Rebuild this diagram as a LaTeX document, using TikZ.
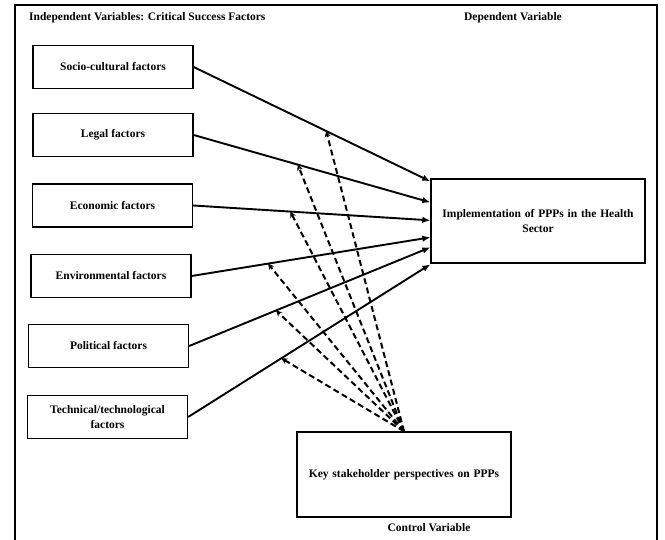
\documentclass[tikz,border=0pt]{standalone}
\usepackage{fontspec}
\setmainfont{Liberation Serif}
\usetikzlibrary{arrows.meta,calc}
\tikzset{
  factor/.style={draw, line width=1.3pt, minimum width=160pt, minimum height=43pt, inner sep=2pt, align=center, font=\fontsize{11.5}{14.5}\selectfont\bfseries},
  bigbox/.style={draw, line width=1.3pt, minimum width=214pt, minimum height=84pt, inner sep=2pt, align=center, text width=205pt, font=\fontsize{11.5}{15}\selectfont\bfseries},
  lbl/.style={inner sep=0pt, font=\fontsize{11.5}{14}\selectfont\bfseries},
  link/.style={line width=1.9pt, -{Latex[length=8pt,width=6.5pt]}},
  moder/.style={line width=2pt, dash pattern=on 6pt off 3.5pt, -{Stealth[length=6pt,width=6pt]}}
}
\begin{document}
\begin{tikzpicture}[x=1pt,y=-1pt]
\useasboundingbox (0,0) rectangle (665,540);
% frame
\draw[line width=1.3pt] (15,545) -- (15,5) -- (657,5) -- (657,545);
% headings
\node[lbl, anchor=west] (hind) at (29,18) {Independent Variables: Critical Success Factors};
\node[lbl] (hdep) at (513,18) {Dependent Variable};
\node[lbl] (hctl) at (429,528) {Control Variable};
% factor boxes
\node[factor] (soc) at (113,67) {Socio-cultural factors};
\node[factor] (leg) at (113,135) {Legal factors};
\node[factor] (eco) at (112.5,205.5) {Economic factors};
\node[factor] (env) at (111,276) {Environmental factors};
\node[factor] (pol) at (108.5,346) {Political factors};
\node[factor] (tec) at (107.5,417) {Technical/technological\\factors};
% dependent and control boxes
\node[bigbox] (imp) at (538,221) {Implementation of PPPs in the Health\\Sector};
\node[bigbox, minimum height=85pt] (key) at (404,474.5) {Key stakeholder perspectives on PPPs};
% targets on the dependent box
\coordinate (i1) at ($(imp.north west)+(0,3)$);
\coordinate (i2) at ($(imp.north west)+(0,24)$);
\coordinate (i3) at ($(imp.north west)+(0,42)$);
\coordinate (i4) at ($(imp.north west)+(0,59)$);
\coordinate (i5) at ($(imp.north west)+(0,69)$);
\coordinate (i6) at ($(imp.north west)+(0,86)$);
% solid connectors
\draw[link] (soc.east) -- (i1);
\draw[link] (leg.east) -- (i2);
\draw[link] (eco.east) -- (i3);
\draw[link] (env.east) -- (i4);
\draw[link] (pol.east) -- (i5);
\draw[link] (tec.east) -- (i6);
% moderating points on the solid connectors
\coordinate (d1) at ($(soc.east)!0.56!(i1)$);
\coordinate (d2) at ($(leg.east)!0.44!(i2)$);
\coordinate (d3) at ($(eco.east)!0.41!(i3)$);
\coordinate (d4) at ($(env.east)!0.32!(i4)$);
\coordinate (d5) at ($(pol.east)!0.36!(i5)$);
\coordinate (d6) at ($(tec.east)!0.385!(i6)$);
% dashed connectors
\draw[moder] (key.north) -- (d1);
\draw[moder] (key.north) -- (d2);
\draw[moder] (key.north) -- (d3);
\draw[moder] (key.north) -- (d4);
\draw[moder] (key.north) -- (d5);
\draw[moder] (key.north) -- (d6);
\end{tikzpicture}
\end{document}
